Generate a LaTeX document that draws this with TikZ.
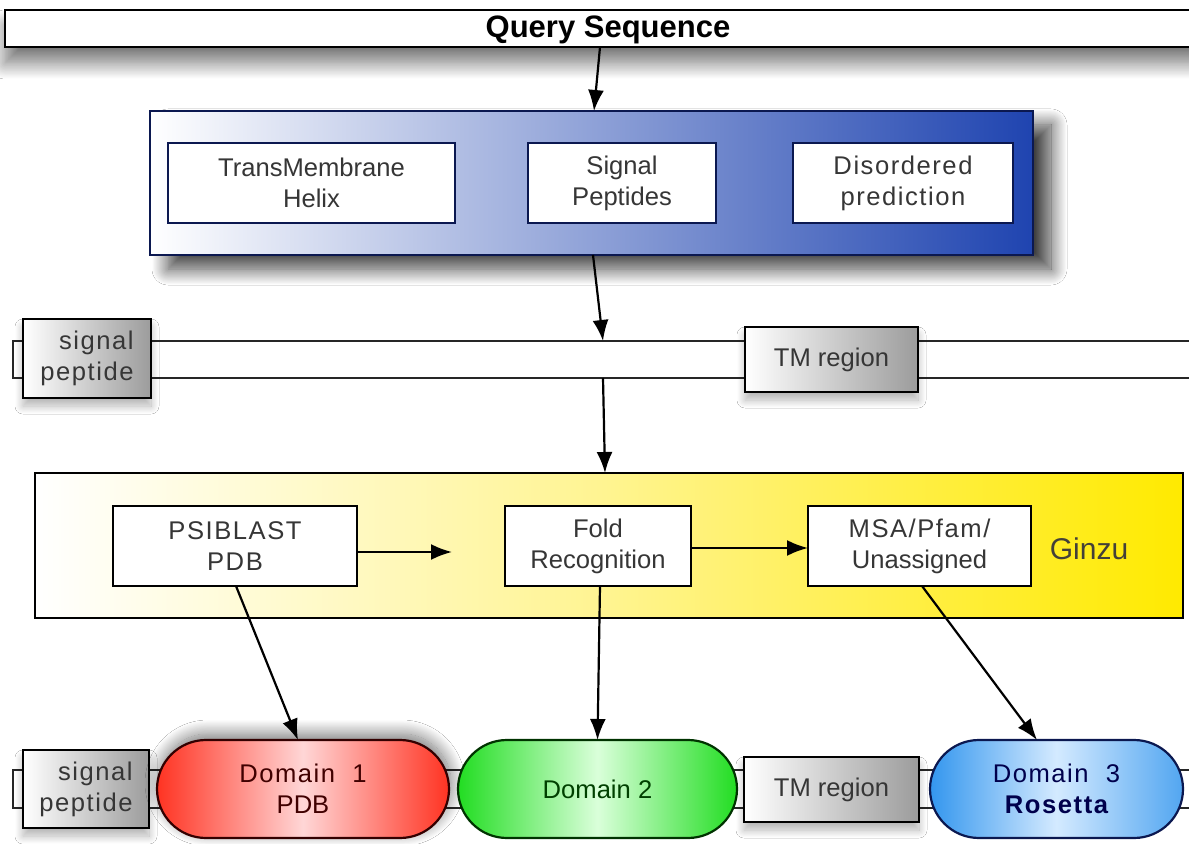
\documentclass[tikz,border=0pt]{standalone}
\usepackage{fontspec}
\setmainfont{Liberation Sans}
\newfontfamily\spc[LetterSpace=6]{Liberation Sans}
\usetikzlibrary{arrows.meta,shadows.blur}

\definecolor{txt}{HTML}{363636}
\definecolor{bluedeep}{HTML}{1F44B0}
\definecolor{blueedge}{HTML}{0B1850}
\definecolor{yellowdeep}{HTML}{FFEA00}
\definecolor{yellowmid}{HTML}{FFF490}
\definecolor{greydeep}{HTML}{9C9C9C}
\definecolor{redA}{HTML}{FF3322}
\definecolor{redB}{HTML}{FFD6D6}
\definecolor{greenA}{HTML}{22DD22}
\definecolor{greenB}{HTML}{DAFFDA}
\definecolor{blueA}{HTML}{3396EE}
\definecolor{blueB}{HTML}{D4EAFF}

\begin{document}
\begin{tikzpicture}[x=0.5pt,y=-0.5pt,
  every node/.style={inner sep=0pt, outer sep=0pt, align=center,
    font=\fontsize{12.8}{15.5}\selectfont, text=txt},
  bar/.style={draw=black, line width=1.4pt, fill=white},
  card/.style={draw=black, line width=1.1pt, fill=white},
  band/.style={draw=black!85, line width=1.3pt, fill=white},
  greybox/.style={draw=black, line width=1.1pt, left color=white, right color=greydeep,
    blur shadow={shadow xshift=0pt, shadow yshift=-4pt, shadow blur radius=4pt,
      shadow opacity=30, shadow blur steps=16}},
  pill/.style={rounded corners=24.5pt, line width=1.1pt, minimum height=49pt},
  arr/.style={line width=1.1pt, -{Latex[length=10.5pt,width=8pt]}},
]
% page
\fill[white] (0,0) rectangle (1189,844);
\useasboundingbox (0,0) rectangle (1189,844);

% query sequence bar
\node[bar, minimum width=603pt, minimum height=18.5pt,
  blur shadow={shadow xshift=0pt, shadow yshift=-8pt, shadow blur radius=8pt,
    shadow opacity=55, shadow blur steps=20}]
  (query) at (608,28.5) {};
\node[font=\fontsize{15.5}{18}\selectfont\bfseries, text=black] (qlabel) at (608,30) {Query Sequence};

% first stage: sequence feature predictors
\node[draw=blueedge, line width=1.1pt, left color=white, right color=bluedeep,
  minimum width=441.5pt, minimum height=72pt,
  blur shadow={shadow xshift=9pt, shadow yshift=-7pt, shadow blur radius=8pt,
    shadow opacity=75, shadow blur steps=20}]
  (pred) at (591.5,183) {};
\node[card, draw=blueedge, minimum width=143.5pt, minimum height=40pt] (tmh) at (311.5,183)
  {TransMembrane\\Helix};
\node[card, draw=blueedge, minimum width=94pt, minimum height=40pt] (sigp) at (622,183)
  {Signal\\Peptides};
\node[card, draw=blueedge, minimum width=110pt, minimum height=40pt] (dis) at (903,183)
  {\spc Disordered\\\spc prediction};

% annotated sequence
\node[band, minimum width=599pt, minimum height=18.5pt] (track1) at (612,359.5) {};
\node[greybox, minimum width=64pt, minimum height=39.5pt, align=right] (sp1) at (87,358.5)
  {\spc signal\\\spc peptide};
\node[greybox, minimum width=86.5pt, minimum height=32.5pt] (tm1) at (831.5,359.5) {TM region};

% Ginzu domain parsing
\node[draw=black, line width=1.1pt, left color=white, right color=yellowdeep, middle color=yellowmid,
  minimum width=574pt, minimum height=72.5pt] (ginzu) at (609,545.5) {};
\node[card, minimum width=122pt, minimum height=40pt] (psi) at (235,546)
  {\spc PSIBLAST\\\spc PDB};
\node[card, minimum width=93pt, minimum height=40pt] (fold) at (598,546)
  {Fold\\Recognition};
\node[card, minimum width=111.5pt, minimum height=40pt] (msa) at (919.5,546)
  {\spc MSA/Pfam/\\Unassigned};
\node[font=\fontsize{15}{17}\selectfont, text=black!85!yellow] (glabel) at (1089,549) {Ginzu};
\coordinate (gap) at (452,552);

% parsed domains
\node[band, minimum width=599pt, minimum height=19pt] (track2) at (612,789) {};
\node[greybox, minimum width=63pt, minimum height=39pt, align=right] (sp2) at (86,789)
  {\spc signal\\\spc peptide};
\node[pill, draw=black!80!red, left color=redA, right color=redA, middle color=redB,
  minimum width=146pt, text=black!75!red,
  blur shadow={shadow xshift=1pt, shadow yshift=3pt, shadow blur radius=7pt,
    shadow opacity=55, shadow blur steps=20}]
  (d1) at (303,789) {\spc Domain\ \ 1\\PDB};
\node[pill, draw=black!80!green, left color=greenA, right color=greenA, middle color=greenB,
  minimum width=139.5pt, text=black!75!green] (d2) at (597.5,789) {Domain 2};
\node[greybox, minimum width=87.5pt, minimum height=32.5pt] (tm2) at (831.5,789.5) {TM region};
\node[pill, draw=blueedge, left color=blueA, right color=blueA!85!white, middle color=blueB,
  minimum width=126.5pt, text=black!70!blue] (d3) at (1056.5,789)
  {\spc Domain\ \ 3\\\spc\bfseries Rosetta};

% flow
\draw[arr] ([xshift=-4pt]query.south) -- ([xshift=1.25pt]pred.north);
\draw[arr] ([xshift=0.75pt]pred.south) -- ([xshift=-4.5pt]track1.north);
\draw[arr] ([xshift=-4.5pt]track1.south) -- ([xshift=-2pt]ginzu.north);
\draw[arr] ([yshift=-3pt]psi.east) -- (gap);
\draw[arr] ([yshift=-1pt]fold.east) -- ([yshift=-1pt]msa.west);
\draw[arr] ([xshift=0.5pt]psi.south) -- ([xshift=-2.5pt]d1.north);
\draw[arr] ([xshift=1pt]fold.south) -- (d2.north);
\draw[arr] ([xshift=1.25pt]msa.south) -- ([xshift=-9.75pt]d3.north);
\end{tikzpicture}
\end{document}
